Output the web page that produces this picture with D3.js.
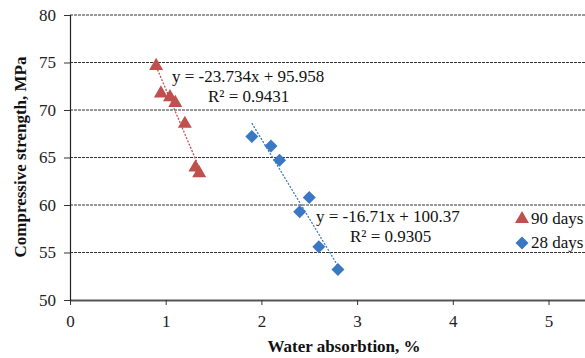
<!DOCTYPE html>
<html><head><meta charset="utf-8">
<script src="https://cdn.jsdelivr.net/npm/d3@7/dist/d3.min.js"></script>
<style>body{margin:0;background:#fff}svg{display:block}</style>
</head><body>
<script>
const xTicks = [0,1,2,3,4,5];
const yTicks = [50,55,60,65,70,75,80];
const seriesNames = ["90 days","28 days"];
const x90 = [0.90,0.95,1.045,1.10,1.20,1.31,1.35];
const y90 = [74.7,71.8,71.4,70.8,68.6,64.0,63.4];
const x28 = [1.90,2.10,2.19,2.50,2.40,2.60,2.80];
const y28 = [67.2,66.2,64.7,60.8,59.3,55.6,53.2];
const fit90 = {slope:-23.734, intercept:95.958, label:"y = -23.734x + 95.958", r2:"R² = 0.9431"};
const fit28 = {slope:-16.71, intercept:100.37, label:"y = -16.71x + 100.37", r2:"R² = 0.9305"};

const W=585,H=358;
const FONT="Liberation Serif";
const svg=d3.select("body").append("svg").attr("width",W).attr("height",H);
const x=d3.scaleLinear().domain([0,6]).range([70,644.2]);
const y=d3.scaleLinear().domain([50,80]).range([300,15]);
const red="#c0504d", blue="#3b78c3";

// gridlines
svg.append("g").selectAll("line").data(yTicks.filter(d=>d>50)).join("line")
  .attr("x1",x(0)).attr("x2",x(6)).attr("y1",d=>y(d)).attr("y2",d=>y(d))
  .attr("stroke","#333").attr("stroke-width",1.2).attr("stroke-dasharray","3,1");

// axes
const gx=svg.append("g").attr("transform",`translate(0,${y(50)})`)
  .call(d3.axisBottom(x).tickValues(xTicks).tickSize(5).tickPadding(10).tickFormat(d3.format("d")));
gx.select(".domain").attr("stroke","#555").attr("stroke-width",2).attr("d",`M${x(0)},0.5H${x(6)}`);
gx.selectAll(".tick line").attr("stroke","#333");
gx.selectAll("text").style("font-family",FONT).style("font-size","17px").attr("fill","#222");

const gy=svg.append("g").attr("transform",`translate(${x(0)},0)`)
  .call(d3.axisLeft(y).tickValues(yTicks).tickSize(6).tickPadding(8));
gy.select(".domain").attr("stroke","#222").attr("stroke-width",1.2);
gy.selectAll(".tick line").attr("stroke","#333");
gy.selectAll("text").style("font-family",FONT).style("font-size","17px").attr("fill","#222");

function txt(xp,yp,s,opts={}){
  const t=svg.append("text").attr("x",xp).attr("y",yp).attr("fill","#111")
    .style("font-family",FONT).style("font-size","17px").text(s);
  if(opts.bold) t.style("font-weight","bold");
  if(opts.anchor) t.attr("text-anchor",opts.anchor);
  if(opts.transform) t.attr("transform",opts.transform);
  return t;
}

// axis titles
txt(344,352,"Water absorbtion, %",{bold:true,anchor:"middle"});
txt(0,0,"Compressive strength, MPa",{bold:true,anchor:"middle",transform:"translate(26,157) rotate(-90)"});

// trendlines
function trend(xs,fit,color){
  const x0=d3.min(xs), x1=d3.max(xs);
  svg.append("line").attr("x1",x(x0)).attr("y1",y(fit.slope*x0+fit.intercept))
    .attr("x2",x(x1)).attr("y2",y(fit.slope*x1+fit.intercept))
    .attr("stroke",color).attr("stroke-width",1.3).attr("stroke-dasharray","2,1.5");
}
trend(x90,fit90,red);
trend(x28,fit28,blue);

const tri=d3.symbol().type(d3.symbolTriangle).size(85);
const dia=(cx,cy,r)=>`M${cx},${cy-r}L${cx+r},${cy}L${cx},${cy+r}L${cx-r},${cy}Z`;

svg.append("g").selectAll("path").data(x90.map((v,i)=>[v,y90[i]])).join("path")
  .attr("d",tri).attr("transform",d=>`translate(${x(d[0])},${y(d[1])+0.5})`).attr("fill",red);
svg.append("g").selectAll("path").data(x28.map((v,i)=>[v,y28[i]])).join("path")
  .attr("d",d=>dia(x(d[0]),y(d[1]),6.5)).attr("fill",blue);

// equations
txt(172,82,fit90.label);
txt(208,102,fit90.r2);
txt(316,222,fit28.label);
txt(350,242,fit28.r2);

// legend
svg.append("path").attr("d",tri).attr("transform","translate(522,219)").attr("fill",red);
svg.append("path").attr("d",dia(522,243,6.5)).attr("fill",blue);
txt(531,224,seriesNames[0]);
txt(531,248,seriesNames[1]);
</script>
</body></html>
